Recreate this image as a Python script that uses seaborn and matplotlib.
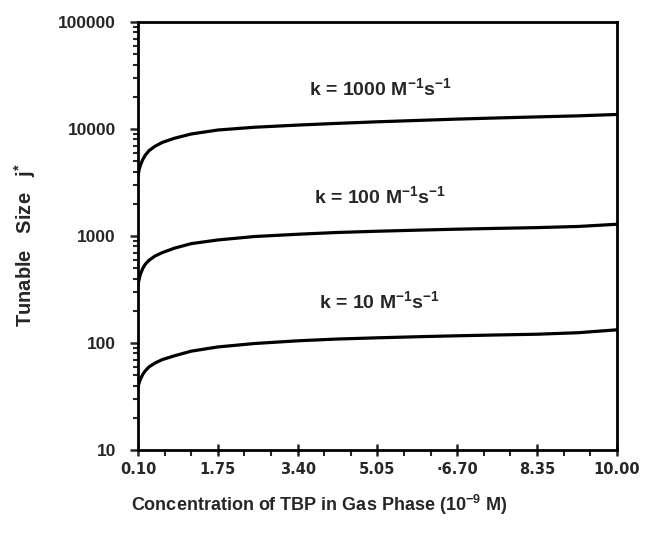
import numpy as np
import pandas as pd
import matplotlib
matplotlib.use("Agg")
import matplotlib.pyplot as plt
import seaborn as sns
from matplotlib.ticker import FixedLocator, LogLocator, NullFormatter

# ---- data ----
conc = [0.10, 0.12, 0.15, 0.20, 0.25, 0.33, 0.45, 0.60, 0.85, 1.20, 1.75,
        2.50, 3.40, 4.20, 5.05, 6.00, 6.70, 7.50, 8.35, 9.20, 10.00]
j_k10 = [38, 42, 46, 51, 55, 60, 65, 70, 76, 84, 92,
         99, 105, 109, 112, 115, 117, 119, 121, 125, 133]
j_k100 = [350, 390, 440, 500, 545, 595, 650, 700, 770, 850, 920,
          990, 1040, 1080, 1110, 1140, 1160, 1180, 1200, 1230, 1290]
j_k1000 = [3600, 4100, 4600, 5200, 5700, 6300, 6900, 7500, 8200, 9000, 9800,
           10400, 10900, 11300, 11700, 12100, 12400, 12700, 13000, 13300, 13700]
series_labels = ["k = 10", "k = 100", "k = 1000"]
xticks = [0.10, 1.75, 3.40, 5.05, 6.70, 8.35, 10.00]
xtick_labels = ["0.10", "1.75", "3.40", "5.05", "\u00b76.70", "8.35", "10.00"]
yticks = [10, 100, 1000, 10000, 100000]
annot_text = [r"k = 10 M$^{-1}$s$^{-1}$", r"k = 100 M$^{-1}$s$^{-1}$",
              r"k = 1000 M$^{-1}$s$^{-1}$"]
annot_y = [245, 2360, 24000]

df = pd.DataFrame({
    "conc": conc * 3,
    "J": j_k10 + j_k100 + j_k1000,
    "k": [series_labels[0]] * len(conc) + [series_labels[1]] * len(conc)
         + [series_labels[2]] * len(conc),
})

sns.set_style("ticks")
plt.rcParams["font.family"] = ["Liberation Sans", "DejaVu Sans"]
plt.rcParams["mathtext.fontset"] = "custom"
plt.rcParams["mathtext.rm"] = "Liberation Sans:bold"
plt.rcParams["mathtext.bf"] = "Liberation Sans:bold"
plt.rcParams["mathtext.default"] = "bf"

fig = plt.figure(figsize=(6.46, 5.39), dpi=100)
ax = fig.add_axes([0.2136, 0.165, 0.955 - 0.2136, 0.959 - 0.165])

sns.lineplot(data=df, x="conc", y="J", hue="k",
             palette=["black", "black", "black"], linewidth=2.3,
             legend=False, ax=ax, estimator=None, sort=True)

ax.set_yscale("log")
ax.set_xlim(0.10, 10.00)
ax.set_ylim(10, 100000)

ax.set_xticks(xticks)
ax.set_xticklabels(xtick_labels)
minor_x = [xticks[0] + i * 0.55 for i in range(19)]
ax.xaxis.set_minor_locator(FixedLocator(minor_x))

ax.set_yticks(yticks)
ax.set_yticklabels([str(v) for v in yticks])
ax.yaxis.set_minor_locator(LogLocator(base=10, subs=np.arange(2, 10)))
ax.yaxis.set_minor_formatter(NullFormatter())

for lab in ax.get_xticklabels():
    lab.set_fontfamily(["DejaVu Sans"])
    lab.set_fontweight("bold")
    lab.set_fontsize(10.5)
for lab in ax.get_yticklabels():
    lab.set_fontweight("bold")
    lab.set_fontsize(12.5)

ax.tick_params(axis="x", which="major", direction="inout", length=9, width=1.8, pad=4)
ax.tick_params(axis="x", which="minor", direction="out", length=4, width=1.5)
ax.tick_params(axis="y", which="major", direction="out", length=6, width=1.8, pad=10)
ax.tick_params(axis="y", which="minor", direction="out", length=3.5, width=1.5)

for sp in ax.spines.values():
    sp.set_visible(True)
    sp.set_linewidth(2.0)
    sp.set_color("black")

for txt, yv in zip(annot_text, annot_y):
    ax.text(5.1, yv, txt, ha="center", va="center", fontsize=14,
            fontweight="bold")

ax.set_xlabel("")
ax.set_ylabel("")
fig.text(319 / 646, 1 - 505 / 539,
         r"Concentration of TBP in Gas Phase (10$^{-9}$ M)",
         ha="center", va="center", fontsize=13, fontweight="bold")
fig.text(25 / 646, 1 - 245 / 539, r"Tunable   Size   j$^{*}$",
         ha="center", va="center", rotation=90, fontsize=14.5,
         fontweight="bold")

fig.savefig("out.png", dpi=100, facecolor="white")
